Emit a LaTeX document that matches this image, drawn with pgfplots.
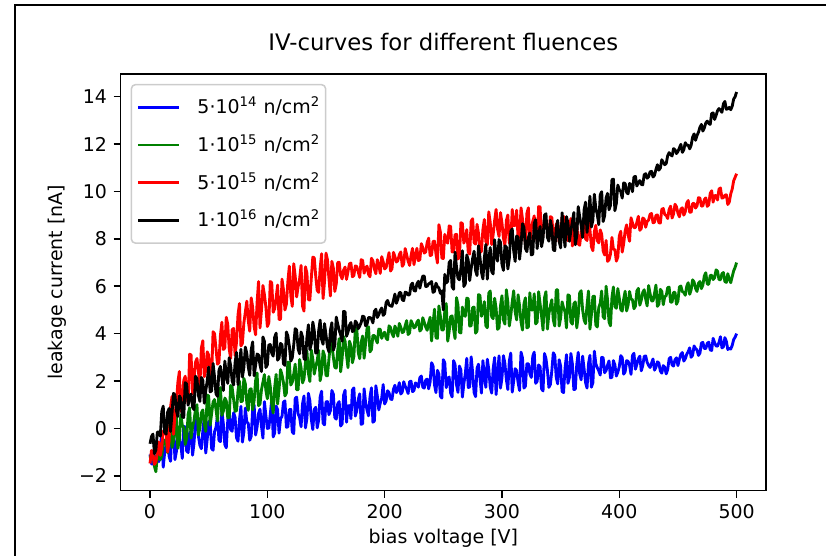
\documentclass[border=0pt]{standalone}
\usepackage{fontspec}
\setmainfont{DejaVu Sans}
\usepackage{pgfplots}
\usepackage{pgfplotstable}
\pgfplotsset{compat=1.18}
\definecolor{mplgreen}{RGB}{0,128,0}
\definecolor{mplblue}{RGB}{0,0,255}
\definecolor{mplred}{RGB}{255,0,0}

\pgfplotstableread{
V b g r k
0 -1.10 -1.24 -1.48 -0.65
1.25 -1.50 -1.09 -0.93 -0.34
2.5 -1.50 -1.00 -1.09 -0.24
3.75 -1.15 -1.60 -1.52 -1.07
5 -1.33 -1.83 -1.42 -0.91
6.25 -1.35 -1.13 -1.00 -0.16
7.5 -1.40 -1.22 -0.57 -0.15
8.75 -0.88 -1.32 -1.14 -0.33
10 -0.18 -1.17 -0.80 0.70
11.25 -1.64 -0.68 -0.11 0.94
12.5 -1.01 -0.49 -0.22 -0.18
13.75 -0.67 -0.63 -0.15 -0.24
15 -0.40 -1.03 -1.00 0.68
16.25 -1.18 0.11 -0.55 0.84
17.5 -1.39 -0.10 0.90 -0.13
18.75 0.08 -0.80 1.35 0.64
20 0.10 -0.53 -0.25 1.48
21.25 -1.32 -0.03 0.55 1.41
22.5 -0.97 0.50 1.10 0.75
23.75 -0.31 -0.84 1.95 0.50
25 -0.52 -0.49 2.40 1.37
26.25 -0.66 0.57 0.73 1.27
27.5 -1.27 0.13 1.15 0.49
28.75 0.08 0.03 2.03 0.46
30 0.06 -0.68 2.20 1.93
31.25 -0.96 -0.42 1.48 1.87
32.5 -1.02 0.60 1.05 0.98
33.75 -0.20 0.87 3.13 1.33
35 -0.11 -0.41 3.10 1.45
36.25 -1.13 0.05 1.46 0.90
37.5 -0.63 0.32 2.12 0.79
38.75 0.31 0.81 2.79 2.20
40 0.41 1.00 2.95 2.10
41.25 -0.33 -0.28 2.41 1.39
42.5 -0.71 0.02 1.77 1.14
43.75 -0.86 0.66 3.39 2.15
45 -0.12 0.78 3.70 2.04
46.25 0.46 0.21 2.18 1.06
47.5 -1.04 -0.13 2.45 1.59
48.75 -0.46 1.41 3.23 2.00
50 0.28 1.37 3.10 2.59
51.25 0.30 0.13 2.18 1.54
52.5 -0.85 0.62 2.25 1.58
53.75 -0.92 1.11 4.08 2.74
55 -0.14 1.22 4.00 2.17
56.25 0.04 0.80 3.36 1.46
57.5 0.53 0.31 2.71 1.35
58.75 -0.50 1.50 2.77 2.44
60 -0.56 1.72 3.92 2.62
61.25 0.74 0.55 4.48 2.13
62.5 0.19 0.73 3.33 1.60
63.75 -0.68 1.28 3.39 2.84
65 -0.82 1.16 4.69 2.31
66.25 0.32 0.44 4.40 1.90
67.5 0.73 0.47 3.35 2.98
68.75 -0.06 1.81 2.95 2.65
70 -0.12 1.73 4.16 2.01
71.25 0.66 1.23 4.22 1.83
72.5 0.47 0.72 3.08 2.77
73.75 -0.40 0.75 3.64 3.21
75 -0.54 1.60 4.80 1.85
76.25 0.36 2.00 5.27 2.63
77.5 0.93 1.13 3.48 3.34
78.75 -0.58 1.15 3.59 2.17
80 -0.16 2.11 4.45 2.57
81.25 0.86 1.88 4.91 3.43
82.5 0.27 1.08 5.37 3.16
83.75 0.21 0.76 4.54 2.59
85 -0.50 1.65 4.10 2.24
86.25 -0.33 1.67 5.51 3.32
87.5 0.81 0.78 5.12 3.65
88.75 0.99 1.18 4.29 2.22
90 -0.28 2.02 3.95 2.66
91.25 0.06 2.34 5.31 3.14
92.5 0.63 0.96 6.20 3.10
93.75 0.81 1.02 4.24 2.68
95 0.10 1.63 5.00 2.40
96.25 -0.41 1.95 6.03 3.86
97.5 1.13 2.27 5.65 3.67
98.75 0.55 1.61 5.13 2.57
100 0.00 1.25 4.30 2.68
101.25 0.01 2.19 4.45 3.52
102.5 0.58 1.78 6.20 3.54
103.75 1.23 1.03 6.15 3.18
105 -0.36 0.65 4.90 3.05
106.25 -0.19 1.73 5.05 3.85
107.5 0.94 2.28 5.50 4.02
108.75 0.79 1.03 6.05 2.88
110 -0.20 1.65 4.60 2.97
111.25 0.41 2.48 4.60 3.59
112.5 0.50 2.26 6.30 3.53
113.75 1.11 1.93 5.85 2.72
115 1.16 1.37 5.00 2.66
116.25 0.05 1.49 5.25 4.07
117.5 0.06 2.80 6.20 3.90
118.75 0.79 2.77 6.85 3.47
120 0.80 1.83 5.60 2.84
121.25 -0.15 1.95 5.15 2.98
122.5 -0.22 2.30 6.95 3.52
123.75 1.27 2.71 6.43 4.21
125 1.32 1.63 5.55 4.15
126.25 0.61 1.63 5.98 3.35
127.5 0.46 2.91 6.30 3.15
128.75 0.07 2.56 6.88 4.07
130 1.04 1.92 5.16 3.86
131.25 1.37 2.09 4.95 2.93
132.5 0.02 2.79 6.82 2.91
133.75 0.43 3.27 6.55 3.83
135 1.48 2.33 5.43 4.37
136.25 1.17 1.98 5.42 3.33
137.5 0.38 3.31 6.35 3.57
138.75 -0.05 2.93 7.23 4.49
140 0.80 2.29 7.20 4.13
141.25 0.89 2.61 6.42 3.18
142.5 0.02 2.86 5.83 3.19
143.75 0.35 3.30 5.74 4.11
145 1.32 2.01 6.75 4.57
146.25 1.57 2.34 7.37 3.76
147.5 0.22 3.27 5.48 3.55
148.75 0.15 3.07 6.19 4.42
150 1.12 2.23 7.40 3.95
151.25 1.13 2.22 7.12 3.44
152.5 0.58 2.92 6.33 3.23
153.75 0.75 3.59 5.59 4.14
155 1.60 3.58 7.05 4.46
156.25 1.45 3.01 6.77 3.30
157.5 0.46 2.58 5.78 3.50
158.75 0.39 2.54 6.09 4.70
160 1.04 3.31 7.00 4.40
161.25 1.13 3.79 7.01 4.14
162.5 0.10 2.39 6.46 3.95
163.75 0.19 2.95 6.31 3.68
165 1.40 3.88 6.68 4.94
166.25 1.61 3.68 6.81 4.92
167.5 0.26 3.10 6.29 3.89
168.75 0.95 2.56 6.62 4.06
170 0.96 3.68 6.95 4.35
171.25 0.41 3.49 6.98 4.47
172.5 1.62 2.77 6.40 4.09
173.75 1.71 3.03 6.45 4.12
175 0.52 4.18 6.86 4.53
176.25 0.75 4.22 6.83 4.45
177.5 1.22 3.20 6.60 4.21
178.75 1.46 2.94 6.37 4.32
180 0.17 3.65 7.12 4.47
181.25 0.20 3.90 7.09 4.74
182.5 1.67 2.96 6.55 4.71
183.75 1.10 3.59 6.76 4.33
185 0.77 4.23 6.85 4.40
186.25 0.53 4.29 6.50 4.68
187.5 1.32 3.23 6.40 4.68
188.75 1.71 3.33 7.18 4.63
190 0.26 3.92 7.07 4.45
191.25 0.31 3.92 6.73 4.94
192.5 1.80 3.76 6.53 5.03
193.75 1.37 3.61 7.12 4.68
195 0.78 4.19 6.90 4.80
196.25 1.07 4.18 6.54 4.98
197.5 1.28 3.80 7.25 5.08
198.75 1.85 3.98 7.03 4.77
200 1.03 4.06 6.73 4.84
201.25 1.16 3.81 6.79 5.31
202.5 1.59 3.74 7.12 5.40
203.75 1.51 4.33 7.42 5.21
205 1.24 4.26 6.64 5.17
206.25 1.22 4.01 6.74 5.15
207.5 1.65 3.87 7.43 5.40
208.75 1.82 4.32 7.25 5.67
210 1.51 4.15 7.02 5.28
211.25 1.62 3.89 7.08 5.45
212.5 1.93 4.43 7.33 5.73
213.75 1.45 4.27 7.45 5.73
215 1.53 4.04 6.84 5.43
216.25 1.97 4.08 6.94 5.39
217.5 1.78 4.33 7.59 5.75
218.75 1.66 4.55 7.33 5.73
220 1.47 3.96 7.06 5.63
221.25 1.97 4.03 6.88 5.64
222.5 1.99 4.55 7.29 6.06
223.75 1.55 4.41 7.60 6.13
225 1.60 4.24 6.91 5.82
226.25 1.92 4.29 7.30 5.80
227.5 1.87 4.48 7.60 6.10
228.75 1.74 4.57 7.08 6.21
230 2.14 4.11 7.12 5.92
231.25 2.21 4.18 7.80 6.20
232.5 1.74 4.67 7.63 6.43
233.75 1.70 4.48 7.40 6.43
235 2.04 4.28 7.45 5.99
236.25 2.08 4.14 7.85 6.00
237.5 1.67 4.45 8.03 6.10
238.75 1.96 4.69 7.30 6.13
240 2.77 3.69 7.31 6.20
241.25 2.64 4.44 7.89 5.74
242.5 1.84 5.03 7.90 5.78
243.75 1.51 3.82 7.36 6.13
245 2.45 3.80 6.98 5.98
246.25 2.29 5.17 8.60 5.93
247.5 1.36 4.74 8.29 5.70
248.75 1.28 4.15 7.19 5.80
250 2.90 4.15 7.17 5.00
251.25 2.78 4.94 8.19 6.50
252.5 1.72 5.27 7.88 6.14
253.75 2.07 3.68 7.82 6.21
255 2.17 4.10 8.55 7.00
256.25 1.49 4.72 8.52 7.09
257.5 1.33 4.75 7.45 5.98
258.75 2.86 4.19 7.46 5.87
260 2.70 3.79 8.18 7.44
261.25 1.85 5.52 8.19 6.81
262.5 1.52 5.21 7.15 6.34
263.75 2.63 4.05 7.24 6.27
265 2.46 4.03 8.68 6.76
266.25 1.32 5.12 8.65 7.50
267.5 1.88 4.80 7.82 5.99
268.75 2.32 4.73 7.99 6.10
270 2.96 5.50 8.39 7.32
271.25 1.73 5.47 7.44 7.10
272.5 1.74 4.32 7.36 6.24
273.75 3.02 4.33 8.75 6.75
275 2.35 5.10 8.85 7.17
276.25 1.51 5.12 7.84 7.48
277.5 1.34 4.02 7.78 6.66
278.75 2.54 4.11 8.61 6.45
280 2.71 5.65 8.23 7.71
281.25 2.12 5.61 7.42 7.22
282.5 1.49 4.73 7.48 6.60
283.75 2.86 4.91 8.39 6.31
285 2.23 5.35 8.82 7.21
286.25 1.73 4.33 7.89 7.76
287.5 2.92 4.25 7.75 6.30
288.75 2.50 5.71 9.14 7.13
290 1.74 5.80 8.69 7.63
291.25 1.49 4.71 7.76 6.62
292.5 2.52 4.63 8.18 6.52
293.75 2.99 5.49 8.77 7.96
295 1.43 5.07 9.24 7.27
296.25 2.29 4.18 8.41 7.06
297.5 3.06 4.24 8.10 7.97
298.75 1.70 5.17 9.11 7.85
300 2.13 5.60 8.67 6.92
301.25 3.07 4.58 8.04 6.67
302.5 2.74 4.40 7.72 7.70
303.75 2.06 5.85 8.77 7.66
305 1.64 5.34 9.01 6.73
306.25 2.84 4.32 7.82 7.16
307.5 3.18 4.75 7.87 8.31
308.75 1.53 5.34 9.24 8.42
310 2.00 5.81 8.56 7.49
311.25 2.52 4.92 8.57 7.05
312.5 2.44 4.58 9.21 8.12
313.75 1.93 5.64 8.02 8.07
315 1.60 5.17 8.10 7.14
316.25 3.22 4.49 9.31 7.73
317.5 2.97 4.15 8.84 8.64
318.75 1.70 5.26 8.36 8.48
320 1.78 5.51 7.80 7.59
321.25 2.73 4.24 9.08 7.46
322.5 2.73 4.28 9.31 8.05
323.75 2.31 5.72 7.83 8.25
325 2.15 5.00 8.42 7.32
326.25 3.04 5.00 8.74 7.35
327.5 3.22 5.68 8.97 8.66
328.75 1.90 4.41 8.17 8.81
330 1.99 4.49 7.92 7.59
331.25 2.68 5.77 9.36 8.18
332.5 2.60 5.26 9.35 8.52
333.75 1.67 4.75 7.90 7.67
335 1.58 4.15 8.21 8.02
336.25 3.16 5.51 8.85 9.00
337.5 2.95 5.77 8.60 9.06
338.75 2.45 4.19 8.43 8.06
340 1.73 4.83 7.96 7.90
341.25 1.85 5.17 8.94 8.78
342.5 2.43 5.43 8.90 8.46
343.75 3.19 4.58 8.10 7.54
345 3.09 4.32 8.03 7.50
346.25 2.15 5.85 8.62 8.46
347.5 1.88 5.85 8.67 8.78
348.75 2.90 4.32 7.88 7.90
350 2.63 4.66 8.22 7.62
351.25 1.56 5.34 8.90 9.10
352.5 1.51 5.09 8.95 8.30
353.75 2.52 4.92 8.37 7.66
355 3.11 4.24 8.05 8.94
356.25 1.90 5.64 7.92 8.66
357.5 2.15 5.60 8.45 7.90
358.75 3.16 4.49 8.86 8.35
360 2.73 4.40 7.70 8.71
361.25 1.64 5.26 8.12 9.11
362.5 1.65 5.34 8.66 7.75
363.75 2.69 4.24 8.66 8.12
365 3.21 4.75 7.79 9.36
366.25 2.29 5.72 7.73 8.93
367.5 2.05 5.81 8.30 8.57
368.75 3.05 5.00 8.42 8.06
370 2.52 4.58 8.78 9.22
371.25 1.94 4.42 8.00 9.55
372.5 1.70 5.19 7.93 8.27
373.75 2.73 5.80 8.85 8.96
375 3.08 4.19 8.38 9.80
376.25 1.74 4.80 7.67 8.50
377.5 1.93 5.57 7.50 8.79
378.75 3.26 5.58 8.31 9.88
380 2.73 4.36 8.57 9.29
381.25 2.56 4.28 7.93 9.03
382.5 2.43 5.10 7.83 8.60
383.75 2.25 5.28 8.38 9.86
385 3.00 5.80 8.20 9.99
386.25 2.98 4.71 7.49 8.73
387.5 2.35 4.63 7.32 8.98
388.75 2.44 6.00 7.93 9.73
390 2.67 5.42 7.05 9.92
391.25 2.85 4.49 7.11 9.23
392.5 2.13 4.33 7.36 9.41
393.75 2.16 5.53 8.06 10.50
395 2.86 5.97 7.56 10.52
396.25 2.68 5.14 7.55 9.19
397.5 2.21 5.07 7.06 9.50
398.75 2.37 5.90 7.23 10.27
400 2.60 5.50 8.12 10.07
401.25 3.07 5.02 8.32 10.00
402.5 2.99 4.95 7.44 9.72
403.75 2.29 5.46 7.80 10.36
405 2.39 5.79 8.34 10.34
406.25 2.86 4.96 8.59 9.96
407.5 2.83 5.20 8.17 9.90
408.75 2.67 5.78 7.90 10.34
410 2.28 5.46 8.89 10.27
411.25 3.08 5.43 8.67 9.99
412.5 3.17 5.05 8.47 10.61
413.75 2.50 5.16 8.48 10.64
415 2.70 5.80 8.70 10.23
416.25 2.94 5.91 8.95 10.38
417.5 3.05 5.20 8.36 10.46
418.75 2.43 5.41 8.44 10.30
420 2.65 5.74 8.88 10.28
421.25 3.04 5.85 8.84 10.71
422.5 3.06 5.46 8.49 10.75
423.75 2.79 5.17 8.74 10.56
425 2.66 6.03 8.79 10.62
426.25 2.57 5.69 9.04 10.83
427.5 2.75 5.38 9.07 10.85
428.75 2.93 5.38 8.68 10.61
430 2.46 5.69 8.70 10.68
431.25 2.58 6.05 8.99 10.93
432.5 2.81 5.15 9.01 11.13
433.75 2.76 5.24 8.68 10.90
435 2.42 5.87 8.67 10.99
436.25 2.33 5.78 9.25 11.34
437.5 2.65 5.22 9.28 11.23
438.75 2.58 5.56 9.03 11.13
440 2.30 5.60 8.99 11.18
441.25 2.48 5.94 8.86 11.51
442.5 2.94 5.96 9.24 11.64
443.75 3.00 5.33 9.38 11.55
445 2.68 5.33 8.88 11.50
446.25 2.63 5.74 9.05 11.81
447.5 2.90 5.74 9.46 11.76
448.75 2.98 5.24 9.36 11.60
450 2.65 5.38 9.08 11.69
451.25 2.92 5.97 8.93 11.84
452.5 3.13 6.01 9.26 11.99
453.75 3.20 5.77 9.31 11.65
455 2.84 5.74 9.00 11.76
456.25 2.94 5.62 9.14 12.06
457.5 3.13 6.00 9.51 11.95
458.75 3.24 6.15 9.62 11.96
460 3.40 5.66 9.13 11.80
461.25 3.00 5.85 9.12 11.95
462.5 3.09 6.27 9.49 12.29
463.75 3.48 6.18 9.50 12.43
465 3.37 5.91 9.30 12.16
466.25 3.31 5.78 9.39 12.36
467.5 3.08 6.13 9.74 12.50
468.75 3.18 6.20 9.72 12.71
470 3.60 5.90 9.38 12.83
471.25 3.63 6.05 9.39 12.55
472.5 3.37 6.44 9.66 12.68
473.75 3.37 6.57 9.73 12.90
475 3.59 6.09 9.37 12.97
476.25 3.64 6.08 9.44 12.87
477.5 3.31 6.45 9.92 12.83
478.75 3.29 6.47 10.03 13.29
480 3.80 6.28 9.55 13.32
481.25 3.62 6.36 9.82 13.04
482.5 3.48 6.69 9.83 13.21
483.75 3.47 6.64 9.64 13.41
485 3.63 6.28 10.10 13.50
486.25 3.87 6.27 10.15 13.43
487.5 3.40 6.53 9.72 13.34
488.75 3.44 6.58 9.74 13.70
490 3.83 6.20 9.84 13.80
491.25 3.68 6.16 9.86 13.47
492.5 3.33 6.53 9.45 13.49
493.75 3.38 6.30 9.55 13.55
495 3.35 6.15 9.90 13.45
496.25 3.50 6.40 10.10 13.60
497.5 3.75 6.65 10.45 13.90
498.75 3.85 6.80 10.60 14.00
500 4.00 7.00 10.75 14.20
}\ivdata

\begin{document}
\begin{tikzpicture}
\useasboundingbox (0,0) rectangle (434.1bp,292.2bp);
\draw[line width=0.9bp] (7.88bp,0bp) -- (7.88bp,289.6bp) -- (434.1bp,289.6bp);
\begin{axis}[
  at={(63.43bp,34.32bp)}, anchor=south west,
  scale only axis, width=339.1bp, height=219bp,
  xmin=-25, xmax=525, ymin=-2.63, ymax=14.96,
  xtick={0,100,...,500}, ytick={-2,0,...,14},
  yticklabels={−2,0,2,4,6,8,10,12,14},
  /pgf/number format/assume math mode=true,
  xtick pos=left, ytick pos=left,
  tick align=outside, major tick length=3.68bp,
  tick style={line width=0.8bp, black},
  axis line style={line width=0.8bp},
  ticklabel style={font=\fontsize{10}{12}\selectfont},
  title={IV-curves for different fluences},
  title style={at={(axis description cs:0.5,1.0295)}, anchor=base, inner sep=0pt, font=\fontsize{12}{14}\selectfont},
  xlabel={bias voltage [V]},
  xlabel style={at={(axis description cs:0.5,-0.1256)}, anchor=base, inner sep=0pt, font=\fontsize{10}{12}\selectfont},
  ylabel={leakage current [nA]},
  ylabel style={at={(axis description cs:-0.0908,0.5)}, anchor=base, inner sep=0pt, font=\fontsize{10}{12}\selectfont},
  legend cell align=left,
  legend image code/.code={\draw[#1] (0bp,0bp) -- (21.5bp,0bp);},
  legend style={at={(axis description cs:0.0155,0.976)}, anchor=north west,
    draw=black!20, line width=0.8bp, rounded corners=2bp, fill=white, fill opacity=0.8, text opacity=1,
    inner xsep=2.8bp, inner ysep=6bp, row sep=8.4bp, column sep=8.9bp,
    nodes={inner sep=0pt, text height=9bp, text depth=2.5bp},
    font=\fontsize{10}{12}\selectfont},
  every axis plot/.append style={line width=1.5bp, line join=round},
]
\addplot[mplblue] table[x=V, y=b] {\ivdata};
\addlegendentry{5·10\textsuperscript{14} n/cm\textsuperscript{2}}
\addplot[mplgreen] table[x=V, y=g] {\ivdata};
\addlegendentry{1·10\textsuperscript{15} n/cm\textsuperscript{2}}
\addplot[mplred] table[x=V, y=r] {\ivdata};
\addlegendentry{5·10\textsuperscript{15} n/cm\textsuperscript{2}}
\addplot[black] table[x=V, y=k] {\ivdata};
\addlegendentry{1·10\textsuperscript{16} n/cm\textsuperscript{2}}
\end{axis}
\end{tikzpicture}
\end{document}
